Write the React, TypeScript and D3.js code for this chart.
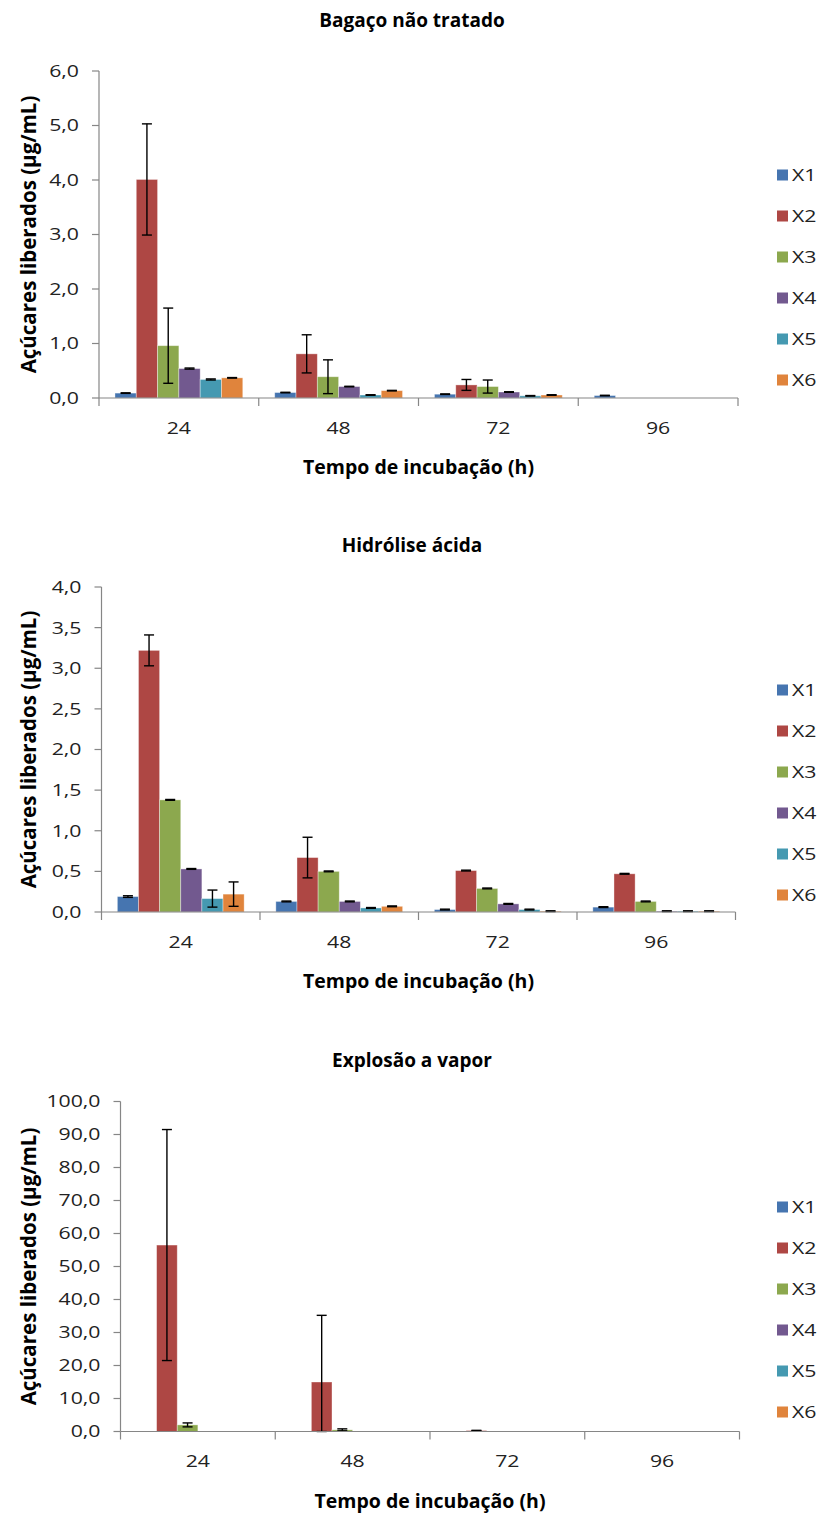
import React from 'react';
import * as d3 from 'd3';

// Incubation times (h) and enzyme series
const categories = ['24', '48', '72', '96'];
const seriesNames = ['X1', 'X2', 'X3', 'X4', 'X5', 'X6'];
const seriesColors = ['#4675B0', '#AE4744', '#8CA84E', '#72598F', '#4599B1', '#E0843C'];

// Bagaço não tratado: mean per series (rows) at each time (columns)
const untreatedMeans = [
  [0.09, 0.1, 0.07, 0.045],
  [4.01, 0.81, 0.24, 0],
  [0.96, 0.39, 0.21, 0],
  [0.54, 0.21, 0.11, 0],
  [0.34, 0.055, 0.04, 0],
  [0.37, 0.135, 0.055, 0],
];
const untreatedErrors = [
  [0.005, 0.005, 0.005, 0.005],
  [1.02, 0.35, 0.1, 0],
  [0.69, 0.31, 0.12, 0],
  [0.01, 0.005, 0.005, 0],
  [0.01, 0.005, 0.005, 0],
  [0.005, 0.005, 0.005, 0],
];
const untreatedTicks = [0, 1, 2, 3, 4, 5, 6];

// Hidrólise ácida
const acidMeans = [
  [0.19, 0.13, 0.03, 0.06],
  [3.22, 0.67, 0.51, 0.47],
  [1.38, 0.5, 0.29, 0.13],
  [0.53, 0.13, 0.1, 0.01],
  [0.165, 0.05, 0.03, 0.01],
  [0.22, 0.07, 0.01, 0.01],
];
const acidErrors = [
  [0.01, 0.005, 0.005, 0.005],
  [0.19, 0.25, 0.005, 0.005],
  [0.005, 0.005, 0.005, 0.005],
  [0.005, 0.005, 0.005, 0.005],
  [0.105, 0.005, 0.005, 0.005],
  [0.15, 0.005, 0.005, 0.005],
];
const acidTicks = [0, 0.5, 1, 1.5, 2, 2.5, 3, 3.5, 4];

// Explosão a vapor
const steamMeans = [
  [0, 0, 0, 0],
  [56.5, 15.0, 0.3, 0],
  [2.0, 0.5, 0, 0],
  [0, 0, 0, 0],
  [0, 0, 0, 0],
  [0, 0, 0, 0],
];
const steamErrors = [
  [0, 0, 0, 0],
  [35.0, 20.2, 0.05, 0],
  [0.6, 0.3, 0, 0],
  [0, 0, 0, 0],
  [0, 0, 0, 0],
  [0, 0, 0, 0],
];
const steamTicks = [0, 10, 20, 30, 40, 50, 60, 70, 80, 90, 100];

const yAxisTitle = 'Açúcares liberados (µg/mL)';
const xAxisTitle = 'Tempo de incubação (h)';

const FONT = "'Open Sans', sans-serif";
const AXIS = '#868686';
const LABEL_SIZE = 17;
const LABEL_STRETCH = 1.25;

// Regular label text, drawn slightly widened around its anchor point
function Label({
  x,
  y,
  anchor,
  children,
}: {
  x: number;
  y: number;
  anchor: 'start' | 'middle' | 'end';
  children: React.ReactNode;
}) {
  return (
    <text
      transform={`translate(${x},${y}) scale(${LABEL_STRETCH},1)`}
      dy="0.35em"
      textAnchor={anchor}
      fontFamily={FONT}
      fontSize={LABEL_SIZE}
      fill="#222"
    >
      {children}
    </text>
  );
}

type PanelProps = {
  title: string;
  means: number[][];
  errors: number[][];
  ticks: number[];
  x0: number;
  x1: number;
  yTop: number;
  yBase: number;
  titleY: number;
};

function Panel({ title, means, errors, ticks, x0, x1, yTop, yBase, titleY }: PanelProps) {
  const x = d3.scaleBand<string>().domain(categories).range([x0, x1]).padding(0);
  const inner = d3
    .scaleBand<string>()
    .domain(seriesNames)
    .range([0, x.bandwidth()])
    .paddingInner(0)
    .paddingOuter(0.75);
  const y = d3.scaleLinear().domain([0, d3.max(ticks) as number]).range([yBase, yTop]);
  const fmt = (v: number) => d3.format('.1f')(v).replace('.', ',');
  const bw = inner.bandwidth();
  const cap = Math.min(10, bw * 0.5);
  const midY = (yTop + yBase) / 2;
  const legendMid = midY + 43;
  const legendStep = 41;

  return (
    <g>
      <text x={412} y={titleY} textAnchor="middle" fontFamily={FONT} fontWeight="bold" fontSize={19} fill="#000">
        {title}
      </text>

      {/* bars */}
      {seriesNames.map((s, si) =>
        categories.map((c, ci) => {
          const v = means[si][ci];
          if (v <= 0) return null;
          const bx = (x(c) as number) + (inner(s) as number);
          return (
            <rect
              key={`${s}-${c}`}
              x={bx}
              y={y(v)}
              width={bw}
              height={yBase - y(v)}
              fill={seriesColors[si]}
              stroke="#ffffff"
              strokeOpacity={0.45}
              strokeWidth={0.8}
            />
          );
        })
      )}

      {/* error bars */}
      {seriesNames.map((s, si) =>
        categories.map((c, ci) => {
          const v = means[si][ci];
          const e = errors[si][ci];
          if (e <= 0) return null;
          const cx = (x(c) as number) + (inner(s) as number) + bw / 2;
          const yHi = y(v + e);
          const yLo = y(Math.max(0, v - e));
          return (
            <g key={`e-${s}-${c}`} stroke="#000" strokeWidth={1.4}>
              <line x1={cx} x2={cx} y1={yHi} y2={yLo} />
              <line x1={cx - cap / 2} x2={cx + cap / 2} y1={yHi} y2={yHi} />
              <line x1={cx - cap / 2} x2={cx + cap / 2} y1={yLo} y2={yLo} />
            </g>
          );
        })
      )}

      {/* y axis */}
      <line x1={x0} x2={x0} y1={yTop} y2={yBase} stroke={AXIS} strokeWidth={1.2} />
      {ticks.map((t) => (
        <g key={`yt-${t}`}>
          <line x1={x0 - 7} x2={x0} y1={y(t)} y2={y(t)} stroke={AXIS} strokeWidth={1.2} />
          <Label x={x0 - 20} y={y(t)} anchor="end">
            {fmt(t)}
          </Label>
        </g>
      ))}
      <text
        transform={`translate(28,${midY}) rotate(-90)`}
        textAnchor="middle"
        dominantBaseline="central"
        fontFamily={FONT}
        fontWeight="bold"
        fontSize={20.5}
        fill="#000"
      >
        {yAxisTitle}
      </text>

      {/* x axis */}
      <line x1={x0} x2={x1} y1={yBase} y2={yBase} stroke={AXIS} strokeWidth={1.2} />
      {categories.map((c) => (
        <line
          key={`xt-${c}`}
          x1={(x(c) as number) + x.bandwidth()}
          x2={(x(c) as number) + x.bandwidth()}
          y1={yBase}
          y2={yBase + 8}
          stroke={AXIS}
          strokeWidth={1.2}
        />
      ))}
      <line x1={x0} x2={x0} y1={yBase} y2={yBase + 8} stroke={AXIS} strokeWidth={1.2} />
      {categories.map((c) => (
        <Label key={`xl-${c}`} x={(x(c) as number) + x.bandwidth() / 2} y={yBase + 30} anchor="middle">
          {c}
        </Label>
      ))}
      <text
        x={(x0 + x1) / 2}
        y={yBase + 76}
        textAnchor="middle"
        fontFamily={FONT}
        fontWeight="bold"
        fontSize={19.5}
        fill="#000"
      >
        {xAxisTitle}
      </text>

      {/* legend */}
      {seriesNames.map((s, si) => {
        const ly = legendMid + (si - 2.5) * legendStep;
        return (
          <g key={`lg-${s}`}>
            <rect x={777} y={ly - 5.5} width={11} height={11} fill={seriesColors[si]} />
            <Label x={792} y={ly} anchor="start">
              {s}
            </Label>
          </g>
        );
      })}
    </g>
  );
}

export default function App() {
  return (
    <svg
      width={822}
      height={1515}
      style={{ position: 'absolute', left: 0, top: 0, display: 'block', background: '#fff' }}
    >
      <rect x={0} y={0} width={822} height={1515} fill="#fff" />
      <Panel
        title="Bagaço não tratado"
        means={untreatedMeans}
        errors={untreatedErrors}
        ticks={untreatedTicks}
        x0={99}
        x1={738}
        yTop={71}
        yBase={398}
        titleY={27}
      />
      <Panel
        title="Hidrólise ácida"
        means={acidMeans}
        errors={acidErrors}
        ticks={acidTicks}
        x0={101.5}
        x1={735.5}
        yTop={587}
        yBase={912}
        titleY={552}
      />
      <Panel
        title="Explosão a vapor"
        means={steamMeans}
        errors={steamErrors}
        ticks={steamTicks}
        x0={120.5}
        x1={739.5}
        yTop={1101.5}
        yBase={1431.5}
        titleY={1067}
      />
    </svg>
  );
}
